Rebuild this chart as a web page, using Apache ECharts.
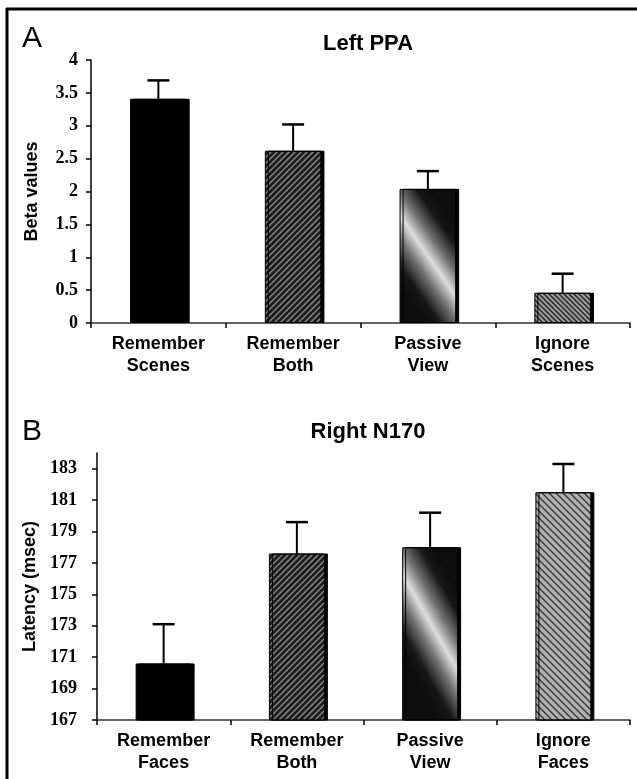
<!DOCTYPE html>
<html>
<head>
<meta charset="utf-8">
<script src="https://cdn.jsdelivr.net/npm/echarts@6/dist/echarts.min.js"></script>
<style>
html,body{margin:0;padding:0;background:#fff;}
#chart{width:637px;height:779px;}
</style>
</head>
<body>
<div id="chart"></div>
<script>
// ---- Data ----
const categoriesA = ['Remember\nScenes', 'Remember\nBoth', 'Passive\nView', 'Ignore\nScenes'];
const valuesA = [3.41, 2.62, 2.04, 0.46];
const errorsA = [0.28, 0.40, 0.27, 0.29];
const yTicksA = [0, 0.5, 1, 1.5, 2, 2.5, 3, 3.5, 4];

const categoriesB = ['Remember\nFaces', 'Remember\nBoth', 'Passive\nView', 'Ignore\nFaces'];
const valuesB = [170.6, 177.6, 178.0, 181.5];
const errorsB = [2.5, 2.0, 2.2, 1.8];
const yTicksB = [167, 169, 171, 173, 175, 177, 179, 181, 183];

const titleA = 'Left PPA';
const titleB = 'Right N170';
const yNameA = 'Beta values';
const yNameB = 'Latency (msec)';

// ---- Fill styles ----
function hatch(size, bg, fg, lw, dir) {
  const n = 4, S = size * n;
  const c = document.createElement('canvas');
  c.width = S; c.height = S;
  const g = c.getContext('2d');
  g.fillStyle = bg; g.fillRect(0, 0, S, S);
  g.strokeStyle = fg; g.lineWidth = lw;
  g.beginPath();
  for (let k = -n - 1; k <= n + 1; k++) {
    if (dir === '/') { g.moveTo(k * size - size, S + size); g.lineTo(k * size + S + size, -size); }
    else { g.moveTo(k * size - size, -size); g.lineTo(k * size + S + size, S + size); }
  }
  g.stroke();
  return c;
}
function grad(x, y, x2, y2) {
  return {
    type: 'linear', x: x, y: y, x2: x2, y2: y2,
    colorStops: [
      {offset: 0, color: '#0d0d0d'}, {offset: 0.14, color: '#161616'},
      {offset: 0.33, color: '#707070'}, {offset: 0.5, color: '#dedede'},
      {offset: 0.67, color: '#707070'}, {offset: 0.86, color: '#161616'},
      {offset: 1, color: '#0d0d0d'}
    ]
  };
}
const fillsA = [
  '#000',
  {image: hatch(6, '#8e8e8e', '#1e1e1e', 3.0, '/'), repeat: 'repeat'},
  grad(-0.08, 0.67, 1.08, 0.33),
  {image: hatch(5, '#9c9c9c', '#2a2a2a', 1.5, '\\'), repeat: 'repeat'}
];
const fillsB = [
  '#000',
  {image: hatch(6, '#8e8e8e', '#1e1e1e', 3.0, '/'), repeat: 'repeat'},
  grad(-0.12, 0.55, 1.12, 0.32),
  {image: hatch(7, '#b0b0b0', '#333333', 1.3, '\\'), repeat: 'repeat'}
];

function barData(vals, fills) {
  return vals.map((v, i) => ({
    value: v,
    itemStyle: {
      color: fills[i], borderColor: '#000', borderWidth: 1,
      shadowColor: '#000', shadowOffsetX: 3, shadowOffsetY: 0, shadowBlur: 0
    }
  }));
}
function errData(vals, errs) {
  return vals.map((v, i) => [i, v, v + errs[i]]);
}
function renderErr(params, api) {
  const i = api.value(0);
  const p0 = api.coord([i, api.value(1)]);
  const p1 = api.coord([i, api.value(2)]);
  const half = 11;
  return {
    type: 'group',
    children: [
      {type: 'line', shape: {x1: p0[0], y1: p0[1], x2: p1[0], y2: p1[1]}, style: {stroke: '#000', lineWidth: 2}},
      {type: 'line', shape: {x1: p1[0] - half, y1: p1[1], x2: p1[0] + half, y2: p1[1]}, style: {stroke: '#000', lineWidth: 2.5}}
    ]
  };
}

const sans = '"Liberation Sans", Arial, sans-serif';
const serif = '"Liberation Serif", "Times New Roman", serif';

function xAxisCfg(cats, gi) {
  return {
    type: 'category', gridIndex: gi, data: cats,
    axisLine: {lineStyle: {color: '#333', width: 1.5}},
    axisTick: {show: true, alignWithLabel: false, length: 5, lineStyle: {color: '#000', width: 1.5}},
    axisLabel: {interval: 0, margin: 10, color: '#000', fontFamily: sans, fontWeight: 'bold', fontSize: 18, lineHeight: 22}
  };
}
function yAxisCfg(gi, min, max, interval, ticks, name, nameGap, labelMargin) {
  return {
    type: 'value', gridIndex: gi, min: min, max: max, interval: interval,
    name: name, nameLocation: 'middle', nameGap: nameGap, nameRotate: 90,
    nameTextStyle: {fontFamily: sans, fontWeight: 'bold', fontSize: 18, color: '#000'},
    axisLine: {show: true, lineStyle: {color: '#000', width: 1.5}},
    axisTick: {show: true, length: 5, customValues: ticks, lineStyle: {color: '#000', width: 1.5}},
    axisLabel: {margin: labelMargin, customValues: ticks, color: '#000', fontFamily: serif, fontWeight: 'bold', fontSize: 18},
    splitLine: {show: false}
  };
}

const chart = echarts.init(document.getElementById('chart'), null, {renderer: 'canvas'});
chart.setOption({
  backgroundColor: '#fff',
  animation: false,
  grid: [
    {left: 91, top: 60, width: 539, height: 263},
    {left: 97, top: 453, width: 533, height: 267}
  ],
  xAxis: [xAxisCfg(categoriesA, 0), xAxisCfg(categoriesB, 1)],
  yAxis: [
    yAxisCfg(0, 0, 4, 0.5, yTicksA, yNameA, 50, 13),
    yAxisCfg(1, 167, 184, 2, yTicksB, yNameB, 51, 20)
  ],
  series: [
    {type: 'bar', xAxisIndex: 0, yAxisIndex: 0, barWidth: '42%', data: barData(valuesA, fillsA)},
    {type: 'custom', xAxisIndex: 0, yAxisIndex: 0, renderItem: renderErr, data: errData(valuesA, errorsA), z: 5},
    {type: 'bar', xAxisIndex: 1, yAxisIndex: 1, barWidth: '42%', data: barData(valuesB, fillsB)},
    {type: 'custom', xAxisIndex: 1, yAxisIndex: 1, renderItem: renderErr, data: errData(valuesB, errorsB), z: 5}
  ],
  graphic: [
    {type: 'line', shape: {x1: 6, y1: 9, x2: 637, y2: 9}, style: {stroke: '#000', lineWidth: 3}},
    {type: 'line', shape: {x1: 7, y1: 8, x2: 7, y2: 779}, style: {stroke: '#000', lineWidth: 3}},
    {type: 'text', x: 22, y: 39, style: {text: 'A', font: 'normal 30px ' + sans, fill: '#000', textVerticalAlign: 'middle'}},
    {type: 'text', x: 368, y: 44, style: {text: titleA, font: 'bold 22px ' + sans, fill: '#000', textAlign: 'center', textVerticalAlign: 'middle'}},
    {type: 'text', x: 22, y: 432, style: {text: 'B', font: 'normal 30px ' + sans, fill: '#000', textVerticalAlign: 'middle'}},
    {type: 'text', x: 368, y: 432, style: {text: titleB, font: 'bold 22px ' + sans, fill: '#000', textAlign: 'center', textVerticalAlign: 'middle'}}
  ]
});
</script>
</body>
</html>
